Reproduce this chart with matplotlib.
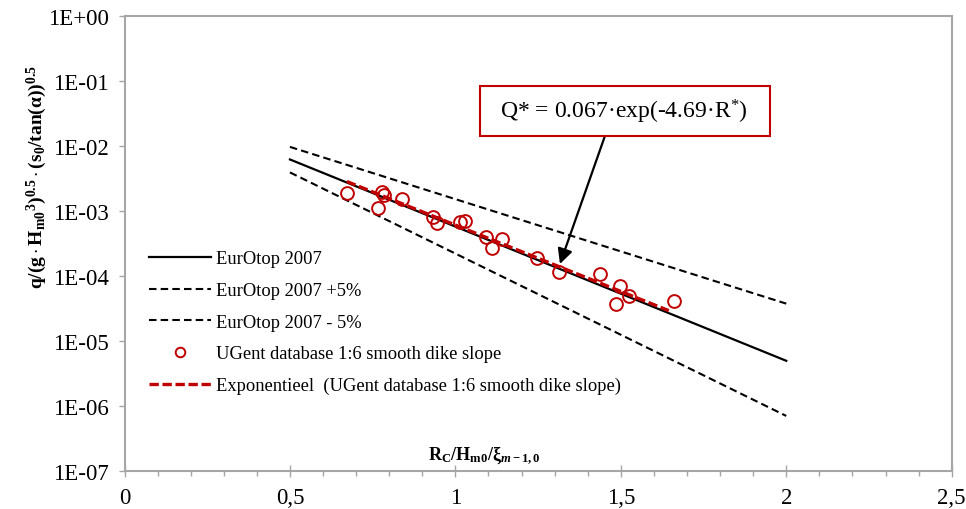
import matplotlib
matplotlib.use("Agg")
import matplotlib.pyplot as plt
from matplotlib.ticker import FixedLocator, FixedFormatter, NullLocator, MultipleLocator
from matplotlib.patches import Rectangle

plt.rcParams['font.family'] = ['Liberation Serif', 'DejaVu Serif']
plt.rcParams['mathtext.fontset'] = 'custom'
plt.rcParams['mathtext.rm'] = 'Liberation Serif'
plt.rcParams['mathtext.bf'] = 'Liberation Serif:bold'
plt.rcParams['mathtext.it'] = 'Liberation Serif:italic:bold'

# ---- data ----
line_x = [0.5, 2.0]
eurotop_y = [6.23e-3, 5.0e-6]
eurotop_up_y = [9.72e-3, 3.78e-5]
eurotop_lo_y = [3.94e-3, 7.1e-7]

fit_x = [0.672, 1.645]
fit_y = [2.85e-3, 2.95e-5]

ugent_x = [0.671, 0.777, 0.785, 0.767, 0.840, 0.931, 0.943, 1.014, 1.030, 1.092,
           1.140, 1.112, 1.248, 1.313, 1.437, 1.499, 1.484, 1.524, 1.661]
ugent_y = [1.87e-3, 1.96e-3, 1.77e-3, 1.11e-3, 1.51e-3, 8.09e-4, 6.62e-4, 6.76e-4, 6.94e-4, 4.03e-4,
           3.76e-4, 2.69e-4, 1.87e-4, 1.15e-4, 1.08e-4, 7.16e-5, 3.78e-5, 4.90e-5, 4.21e-5]

xticks = [0, 0.5, 1.0, 1.5, 2.0, 2.5]
xtick_labels = ["0", "0,5", "1", "1,5", "2", "2,5"]
yticks = [1e0, 1e-1, 1e-2, 1e-3, 1e-4, 1e-5, 1e-6, 1e-7]
ytick_labels = ["1E+00", "1E-01", "1E-02", "1E-03", "1E-04", "1E-05", "1E-06", "1E-07"]

labels = ["EurOtop 2007", "EurOtop 2007 +5%", "EurOtop 2007 - 5%",
          "UGent database 1:6 smooth dike slope",
          "Exponentieel  (UGent database 1:6 smooth dike slope)"]

red = '#C00000'
gray = '#A6A6A6'

W, H = 966, 510
fig = plt.figure(figsize=(W / 100, H / 100), dpi=100)
ax = fig.add_axes([124.5 / W, 1 - 472.3 / H, (951.7 - 124.5) / W, (472.3 - 17) / H])

l1, = ax.plot(line_x, eurotop_y, color='black', lw=1.6, label=labels[0])
l2, = ax.plot(line_x, eurotop_up_y, color='black', lw=1.5, ls=(0, (3.6, 2.0)), label=labels[1])
l3, = ax.plot(line_x, eurotop_lo_y, color='black', lw=1.5, ls=(0, (3.6, 2.0)), label=labels[2])
l4, = ax.plot(ugent_x, ugent_y, ls='none', marker='o', ms=9.2, mfc='none', mec=red, mew=1.4,
              label=labels[3])
l5, = ax.plot(fit_x, fit_y, color=red, lw=2.4, ls=(0, (2.8, 1.1)), label=labels[4])

ax.set_yscale('log')
ax.set_xlim(0, 2.5)
ax.set_ylim(1e-7, 1)

ax.xaxis.set_major_locator(FixedLocator(xticks))
ax.xaxis.set_major_formatter(FixedFormatter(xtick_labels))
ax.xaxis.set_minor_locator(MultipleLocator(0.1))
ax.yaxis.set_major_locator(FixedLocator(yticks))
ax.yaxis.set_major_formatter(FixedFormatter(ytick_labels))
ax.yaxis.set_minor_locator(NullLocator())

for s in ax.spines.values():
    s.set_color(gray)
    s.set_linewidth(1.5)

ax.tick_params(axis='x', which='major', direction='inout', length=8, width=1, color=gray,
               labelsize=16.5, pad=7)
ax.tick_params(axis='x', which='minor', direction='out', length=3.5, width=1, color=gray)
ax.tick_params(axis='y', which='major', direction='out', length=4.5, width=1, color=gray,
               labelsize=16.5, pad=7)

# axis labels
fig.text(37 / W, 1 - 177 / H,
         r'$\mathbf{q/(g\cdot H_{m0}{}^{3})^{0.5}\cdot(s_{0}/tan(\alpha))^{0.5}}$',
         rotation=90, ha='center', va='center', fontsize=14)
fig.text(484 / W, 1 - 456 / H, r'$\mathbf{R_{C}/H_{m0}/\xi_{\mathit{m}-1,0}}$',
         ha='center', va='center', fontsize=13)

# legend
leg = fig.legend(handles=[l1, l2, l3, l4, l5], loc='upper left',
                 bbox_to_anchor=(149 / W, 1 - 251.5 / H), bbox_transform=fig.transFigure,
                 frameon=False, fontsize=13.3, handlelength=3.35, handletextpad=0.25,
                 labelspacing=0.79, borderpad=0, borderaxespad=0, markerscale=0.75)

# annotation box + arrow
fig.patches.append(Rectangle((480 / W, 1 - 137 / H), 290 / W, 50 / H, transform=fig.transFigure,
                             facecolor='white', edgecolor=red, lw=1.5, zorder=5))
fig.text(624 / W, 1 - 112 / H, r'Q* = 0.067·exp(-4.69·R$^{*}$)', ha='center', va='center',
         fontsize=17, zorder=6)
ax.annotate('', xy=(1.316, 1.54e-4), xytext=(1.452, 0.0143),
            arrowprops=dict(arrowstyle='-|>,head_length=0.9,head_width=0.45', color='black',
                            lw=1.6, shrinkA=0, shrinkB=0))

fig.savefig('out.png', dpi=100)
